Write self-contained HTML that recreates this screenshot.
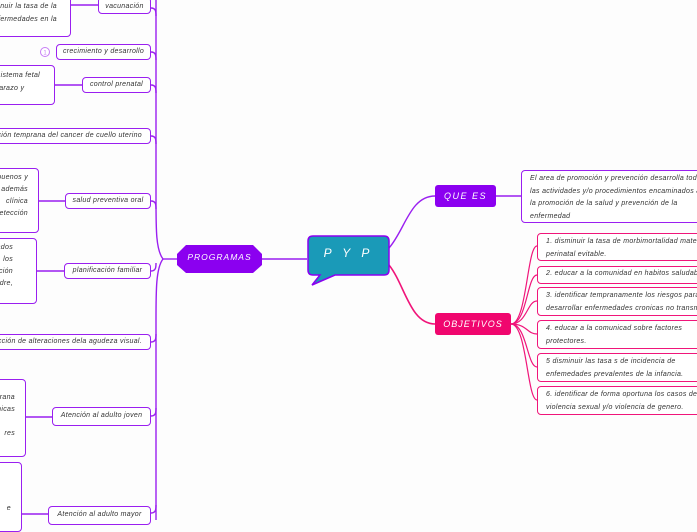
<!DOCTYPE html>
<html><head><meta charset="utf-8"><style>
body{margin:0;width:697px;height:520px;overflow:hidden;background:#fdfdfd;position:relative;font-family:"Liberation Sans",sans-serif;}
.b{position:absolute;box-sizing:border-box;border:1.5px solid #9a1ff0;border-radius:4px;background:#fff;font-style:italic;font-size:7px;letter-spacing:0.3px;color:#333;line-height:11px;white-space:nowrap;overflow:hidden;}
.n{text-align:center;line-height:13px;}
.p{border-color:#f0157a;padding:2px 0 0 8px;line-height:12.5px;}
.t{padding:2px 0 0 0;}
svg{position:absolute;left:0;top:0}
</style></head><body>
<svg width="697" height="520">
<g fill="none" stroke="#9a1ff0" stroke-width="1.4">
<path d="M163 259 C156 250,156 230,156 200 L156 0"/>
<path d="M163 259 C156 268,156 290,156 320 L156 520"/>
<path d="M151 8 C156 8,156 12,156 16"/>
<path d="M151 52 C156 52,156 56,156 60"/>
<path d="M151 85 C156 85,156 89,156 93"/>
<path d="M151 136 C156 136,156 140,156 144"/>
<path d="M151 201 C156 201,156 205,156 209"/>
<path d="M151 271 C156 271,156 267,156 263"/>
<path d="M151 342 C156 342,156 338,156 334"/>
<path d="M151 416 C156 416,156 412,156 408"/>
<path d="M151 513 C156 513,156 509,156 505"/>
<path d="M163 259 L177 259"/>
<path d="M262 259 L307 259"/>
<path d="M71 5 L98 5"/><path d="M55 85 L82 85"/><path d="M39 201 L65 201"/>
<path d="M37 271 L64 271"/><path d="M26 417 L52 417"/><path d="M22 514 L48 514"/>
<path d="M389 248 C405 230,410 196,435 196"/>
<path d="M496 196 L521 196"/>
</g>
<path d="M389 265 C405 285,410 324,435 324" fill="none" stroke="#f0157a" stroke-width="1.6"/>
<g fill="none" stroke="#f0157a" stroke-width="1.2">
<path d="M511 324 C527 324,527 246,537 246"/>
<path d="M511 324 C527 324,527 275,537 275"/>
<path d="M511 324 C527 324,527 301,537 301"/>
<path d="M511 324 C527 324,527 334,537 334"/>
<path d="M511 324 C527 324,527 367,537 367"/>
<path d="M511 324 C527 324,527 400,537 400"/>
</g>
<circle cx="45" cy="52" r="4.5" fill="#fff" stroke="#c77df5" stroke-width="1"/>
<text x="45" y="54.5" font-size="6" text-anchor="middle" fill="#c77df5" font-family="Liberation Sans">1</text>
<polygon points="177,254 186,245 253,245 262,254 262,265 253,273 186,273 177,265" fill="#8b00f0"/>
<path d="M313 236 H384 Q389 236 389 241 V270 Q389 275 384 275 H335 L312 285 L320 275 H313 Q308 275 308 270 V241 Q308 236 313 236Z" fill="#1a9ab8" stroke="#8b00f0" stroke-width="1.5"/>
</svg>
<div style="position:absolute;left:177px;top:252px;width:85px;text-align:center;color:#fff;font-style:italic;font-size:8.5px;letter-spacing:1px">PROGRAMAS</div>
<div style="position:absolute;left:308px;top:246px;width:81px;text-align:center;color:#fff;font-style:italic;font-size:12px;letter-spacing:4px">P Y P</div>
<div style="position:absolute;left:435px;top:185px;width:61px;height:22px;background:#8b00f0;border-radius:3px;color:#fff;font-style:italic;font-size:9px;line-height:22px;text-align:center;letter-spacing:1.5px">QUE ES</div>
<div style="position:absolute;left:435px;top:313px;width:76px;height:22px;background:#f0066e;border-radius:3px;color:#fff;font-style:italic;font-size:9px;line-height:22px;text-align:center;letter-spacing:1px">OBJETIVOS</div>

<div class="b t" style="left:521px;top:170px;width:190px;height:53px;padding:2px 0 0 8px;line-height:12.5px">El area de promoción y prevención desarrolla todas<br>las actividades y/o procedimientos encaminados a<br>la promoción de la salud y prevención de la<br>enfermedad</div>
<div class="b p" style="left:537px;top:233px;width:170px;height:28px">1. disminuir la tasa de morbimortalidad materna<br>perinatal evitable.</div>
<div class="b p" style="left:537px;top:266px;width:170px;height:18px;padding-top:1px">2. educar a la comunidad en habitos saludables</div>
<div class="b p" style="left:537px;top:287px;width:170px;height:29px">3. identificar tempranamente los riesgos para<br>desarrollar enfermedades cronicas no transmisibles</div>
<div class="b p" style="left:537px;top:320px;width:170px;height:29px">4. educar a la comunicad sobre factores<br>protectores.</div>
<div class="b p" style="left:537px;top:353px;width:170px;height:29px">5 disminuir las tasa s de incidencia de<br>enfemedades prevalentes de la infancia.</div>
<div class="b p" style="left:537px;top:386px;width:170px;height:29px">6. identificar de forma oportuna los casos de<br>violencia sexual y/o violencia de genero.</div>

<div class="b n" style="left:98px;top:-3px;width:53px;height:17px;padding-top:2px">vacunación</div>
<div class="b n" style="left:56px;top:44px;width:95px;height:16px">crecimiento y desarrollo</div>
<div class="b n" style="left:82px;top:77px;width:69px;height:16px">control prenatal</div>
<div class="b" style="left:-60px;top:128px;width:211px;height:16px;line-height:13px;text-align:right;padding-right:8px">detección temprana del cancer de cuello uterino</div>
<div class="b n" style="left:65px;top:193px;width:86px;height:16px">salud preventiva oral</div>
<div class="b n" style="left:64px;top:263px;width:87px;height:16px">planificación familiar</div>
<div class="b" style="left:-60px;top:334px;width:211px;height:16px;line-height:13px;text-align:right;padding-right:8px">detección de alteraciones dela agudeza visual.</div>
<div class="b n" style="left:52px;top:407px;width:99px;height:19px;line-height:16px">Atención al adulto joven</div>
<div class="b n" style="left:48px;top:506px;width:103px;height:19px;line-height:16px">Atención al adulto mayor</div>

<div class="b" style="left:-100px;top:-10px;width:171px;height:47px;text-align:right;padding:9px 13px 0 0;line-height:13px">disminuir la tasa de la<br>enfermedades en la</div>
<div class="b" style="left:-100px;top:65px;width:155px;height:40px;text-align:right;padding:3px 14px 0 0;line-height:13px">sistema fetal<br>embarazo y&nbsp;&nbsp;&nbsp;&nbsp;&nbsp;&nbsp;&nbsp;</div>
<div class="b" style="left:-100px;top:168px;width:139px;height:65px;text-align:right;padding:3px 10px 0 0;line-height:12px">buenos y<br>además<br>clínica<br>detección</div>
<div class="b" style="left:-100px;top:238px;width:137px;height:66px;text-align:right;padding:3px 23px 0 0;line-height:12px">dados<br>los<br>ficación<br>madre,</div>
<div class="b" style="left:-100px;top:379px;width:126px;height:78px;text-align:right;padding:12px 10px 0 0;line-height:12px">prana<br>nicas<br><br>res</div>
<div class="b" style="left:-100px;top:462px;width:122px;height:70px;text-align:right;padding:40px 10px 0 0">e</div>
</body></html>
